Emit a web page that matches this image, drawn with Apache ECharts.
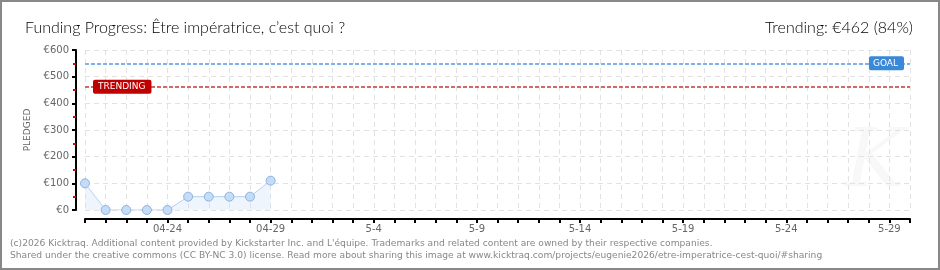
<!DOCTYPE html>
<html>
<head>
<meta charset="utf-8">
<script src="https://cdn.jsdelivr.net/npm/echarts@6/dist/echarts.min.js"></script>
<style>
html,body{margin:0;padding:0;background:#fff;}
#chart{width:940px;height:270px;}
</style>
</head>
<body>
<div id="chart"></div>
<script>
// ---- data ----
var categories = ["04-20","04-21","04-22","04-23","04-24","04-25","04-26","04-27","04-28","04-29","04-30",
  "5-1","5-2","5-3","5-4","5-5","5-6","5-7","5-8","5-9","5-10","5-11","5-12","5-13","5-14","5-15",
  "5-16","5-17","5-18","5-19","5-20","5-21","5-22","5-23","5-24","5-25","5-26","5-27","5-28","5-29","5-30"];
var pledged = [100, 0, 0, 0, 0, 50, 50, 50, 50, 110];
var goalValue = 550;
var trendingValue = 462;
var yTicks = [0, 100, 200, 300, 400, 500, 600];
var titleText = "Funding Progress: Être impératrice, c’est quoi ?";
var trendingText = "Trending: €462 (84%)";
var footer1 = "(c)2026 Kicktraq. Additional content provided by Kickstarter Inc. and L'équipe. Trademarks and related content are owned by their respective companies.";
var footer2 = "Shared under the creative commons (CC BY-NC 3.0) license. Read more about sharing this image at www.kicktraq.com/projects/eugenie2026/etre-imperatrice-cest-quoi/#sharing";

var seriesData = categories.map(function (c, i) { return i < pledged.length ? pledged[i] : null; });

var chart = echarts.init(document.getElementById('chart'), null, {renderer: 'canvas'});
var axisFont = 'DejaVu Sans';
chart.setOption({
  animation: false,
  backgroundColor: '#fff',
  grid: {left: 85, right: 30, top: 50, bottom: 60, containLabel: false},
  title: [
    {text: titleText, left: 20, top: 15, textStyle: {fontFamily: 'Lato', fontWeight: 300, fontSize: 16, color: '#000'}},
    {text: trendingText, right: 22, top: 15, textStyle: {fontFamily: 'Lato', fontWeight: 300, fontSize: 16, color: '#000'}}
  ],
  graphic: [
    {type: 'text', left: 10, top: 239, style: {text: footer1, font: '9.15px "DejaVu Sans"', fill: '#888'}},
    {type: 'text', left: 10, top: 251, style: {text: footer2, font: '9.15px "DejaVu Sans"', fill: '#888'}},
    {type: 'text', left: 845, top: 125, style: {text: 'K', font: 'italic 80px "DejaVu Serif"', fill: '#f8f8f8'}, z: -1},
    {type: 'rect', shape: {x: 1, y: 1, width: 938, height: 268}, style: {fill: 'none', stroke: '#888', lineWidth: 2}, z: 100}
  ],
  xAxis: {
    type: 'category',
    data: categories,
    boundaryGap: false,
    offset: 9,
    axisLine: {onZero: false, lineStyle: {color: '#000', width: 2}},
    axisTick: {show: true, interval: 0, length: 4, lineStyle: {color: '#000', width: 2}},
    axisLabel: {
      interval: function (index) { return index % 5 === 4; },
      fontFamily: axisFont, fontSize: 10, color: '#666', margin: 5
    },
    splitLine: {show: true, interval: 0, lineStyle: {color: '#e2e2e2', type: [5, 4], width: 1}}
  },
  yAxis: {
    type: 'value',
    min: 0, max: 600, interval: 100,
    offset: 9,
    name: 'PLEDGED',
    nameLocation: 'middle',
    nameGap: 42,
    nameTextStyle: {fontFamily: axisFont, fontSize: 9, color: '#666'},
    axisLine: {show: true, onZero: false, lineStyle: {color: '#000', width: 2}},
    axisTick: {show: true, length: 4, lineStyle: {color: '#000', width: 2}},
    minorTick: {show: true, splitNumber: 2, length: 3, lineStyle: {color: '#e00000', width: 2}},
    axisLabel: {
      fontFamily: axisFont, fontSize: 10, color: '#666', margin: 7,
      formatter: function (v) { return yTicks.indexOf(v) >= 0 ? '€' + v : ''; }
    },
    splitLine: {show: true, lineStyle: {color: '#e2e2e2', type: [5, 4], width: 1}}
  },
  series: [{
    type: 'line',
    data: seriesData,
    connectNulls: false,
    symbol: 'circle',
    symbolSize: 9,
    lineStyle: {color: '#b4d0f0', width: 1},
    itemStyle: {color: '#c4dcf8', borderColor: '#8fb2de', borderWidth: 1},
    areaStyle: {color: 'rgba(205,225,248,0.45)'},
    markLine: {
      silent: true,
      symbol: ['none', 'none'],
      data: [
        {
          yAxis: goalValue,
          lineStyle: {color: '#7fb2ea', type: [4, 2], width: 2},
          label: {
            show: true, position: 'insideEnd', formatter: 'GOAL', distance: 6,
            backgroundColor: '#3a88d8', color: '#fff', fontFamily: axisFont, fontSize: 9,
            padding: [3, 6, 2, 4], borderRadius: 2
          }
        },
        {
          yAxis: trendingValue,
          lineStyle: {color: '#d06a6a', type: [4, 2], width: 2},
          label: {
            show: true, position: 'insideStart', formatter: 'TRENDING', distance: 8,
            backgroundColor: '#c00000', color: '#fff', fontFamily: axisFont, fontSize: 9,
            padding: [3, 6, 2, 5], borderRadius: 2
          }
        }
      ]
    }
  }]
});
</script>
</body>
</html>
